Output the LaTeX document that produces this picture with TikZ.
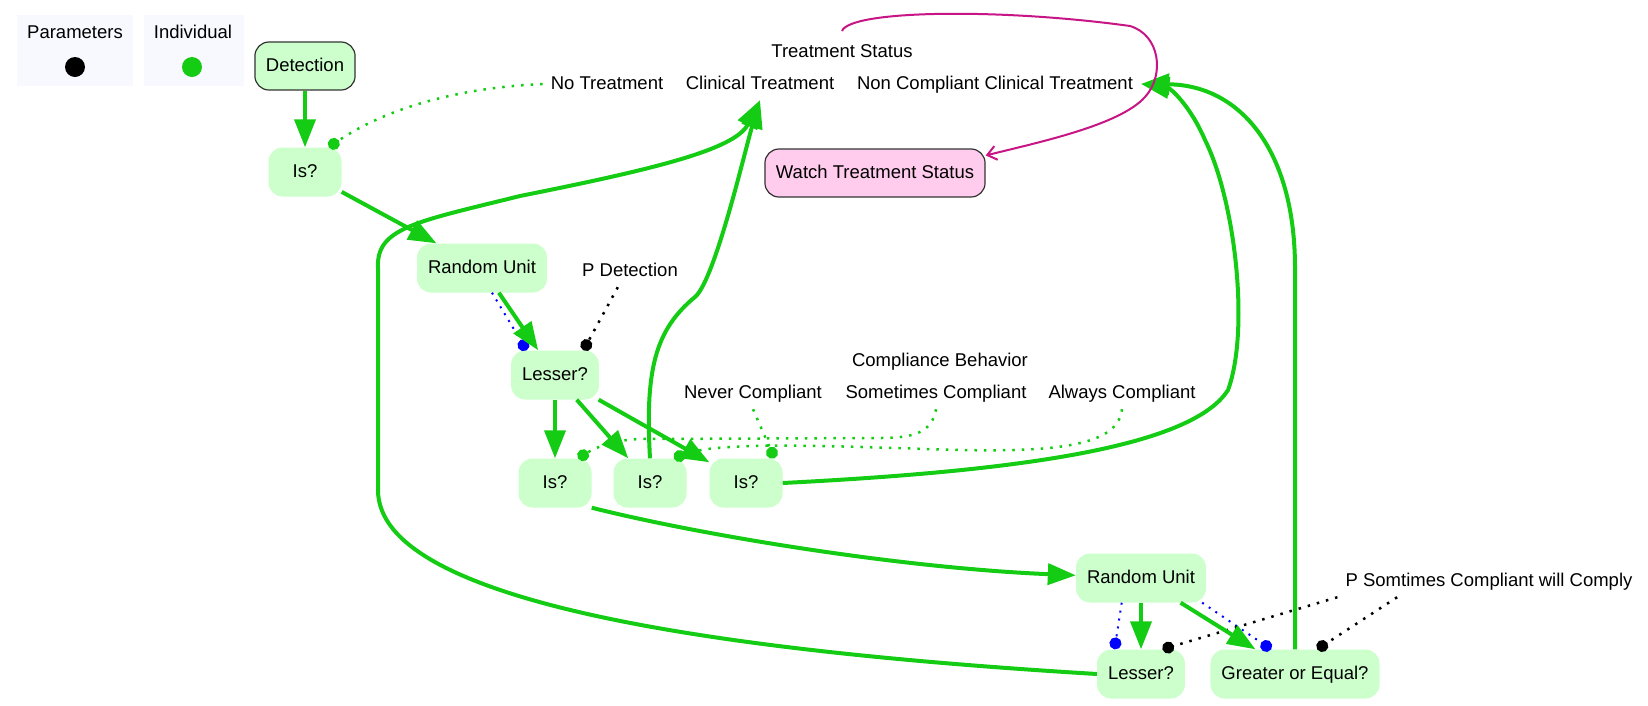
\documentclass[tikz,border=0pt]{standalone}
\usepackage{fontspec}
\setmainfont{Liberation Sans}
\usepackage{xcolor}
\usetikzlibrary{arrows.meta}

\definecolor{indgreen}{RGB}{20,204,20}
\definecolor{nodegreen}{RGB}{204,255,204}
\definecolor{watchpink}{RGB}{255,204,238}
\definecolor{watchline}{RGB}{199,21,133}
\definecolor{legendbg}{RGB}{248,249,255}

\begin{document}
\begin{tikzpicture}[x=1pt,y=-1pt,font=\fontsize{18.5}{22}\selectfont,
    every node/.style={text height=13.5pt,text depth=3.5pt}]
    \tikzstyle{block}=[rectangle,rounded corners=14pt,fill=nodegreen,minimum height=49pt,minimum width=73pt,inner xsep=11pt]
    \tikzstyle{boxed}=[draw=black!80,line width=1.2pt]
    \tikzstyle{field}=[inner xsep=8pt,minimum height=32pt]
    \tikzstyle{flow}=[-{Triangle[length=28pt,width=21pt]},draw=indgreen,line width=4pt]
    \tikzstyle{link}=[-{Circle[length=12pt]},line width=2.5pt,dash pattern=on 2.5pt off 7pt]
    \tikzstyle{thinlink}=[link,line width=2pt,dash pattern=on 2pt off 6pt]
    \tikzstyle{legend}=[rectangle,fill=legendbg,minimum height=71pt]
    \tikzstyle{legdot}=[circle,minimum size=20pt,inner sep=0pt]

    \useasboundingbox (0,0) rectangle (1648,705);

    \node[legend,minimum width=116pt] (lp) at (75,50.5) {};
    \node[legend,minimum width=100pt] (li) at (194,50.5) {};
    \node (lpt) at (75,33) {Parameters};
    \node (lit) at (193,33) {Individual};
    \node[legdot,fill=black] (lpd) at (75,67) {};
    \node[legdot,fill=indgreen] (lid) at (192,67) {};

    \node[block,boxed,minimum height=48pt] (det) at (305,66) {Detection};
    \node[block] (is1) at (305,172) {Is?};
    \node[block] (ru1) at (482,268) {Random Unit};
    \node[field] (pDet) at (630,271) {P Detection};
    \node[block] (les1) at (555,375) {Lesser?};
    \node[block] (isA) at (555,483) {Is?};
    \node[block] (isB) at (650,483) {Is?};
    \node[block] (isC) at (746,483) {Is?};
    \node[block] (ru2) at (1141,578) {Random Unit};
    \node[field] (pSome) at (1489,581) {P Somtimes Compliant will Comply};
    \node[block] (les2) at (1141,674) {Lesser?};
    \node[block] (goe) at (1295,674) {Greater or Equal?};
    \node[block,boxed,fill=watchpink,minimum height=48pt] (watch) at (875,173) {Watch Treatment Status};

    \coordinate (tsTop) at (842,31);
    \node (tsTitle) at (842,52) {Treatment Status};
    \node[field] (tsNo) at (607,84) {No Treatment};
    \node[field] (tsClin) at (760,84) {Clinical Treatment};
    \node[field] (tsNonComp) at (995,84) {Non Compliant Clinical Treatment};

    \node (cbTitle) at (940,361) {Compliance Behavior};
    \node[field] (cbNever) at (753,393) {Never Compliant};
    \node[field] (cbSome) at (936,393) {Sometimes Compliant};
    \node[field] (cbAlways) at (1122,393) {Always Compliant};

    \draw[link,indgreen] (tsNo.west) .. controls (450,88) and (380,112) .. (is1.46);
    \draw[link,indgreen] (cbSome.south) .. controls (932,432) and (915,438) .. (880,438) -- (640,439) .. controls (612,440) and (595,448) .. (isA.47);
    \draw[link,indgreen] (cbAlways.south) .. controls (1118,445) and (1060,452) .. (960,450) .. controls (850,447) and (720,440) .. (isB.46);
    \draw[link,indgreen] (cbNever.south) -- (isC.41);
    \draw[thinlink,blue] (ru1.292) -- (les1.139);
    \draw[link,black] (pDet.233) -- (les1.41);
    \draw[thinlink,blue] (ru2.232) -- (les2.137);
    \draw[thinlink,blue] (ru2.338) -- (goe.134);
    \draw[link,black] (pSome.south west) -- (les2.49);
    \draw[link,black] (pSome.190) -- (goe.48);

    \draw[flow] (det) -- (is1);
    \draw[flow] (is1) -- (ru1);
    \draw[flow] (ru1) -- (les1);
    \draw[flow] (les1) -- (isA);
    \draw[flow] (les1) -- (isB);
    \draw[flow] (les1) -- (isC);
    \draw[flow] (isA.south east) .. controls (700,535) and (900,568) .. (ru2);
    \draw[flow] (ru2) -- (les2);
    \draw[flow] (ru2) -- (goe);
    \draw[flow] (isB.north) .. controls (645,370) and (655,330) .. (695,297) .. controls (715,280) and (745,150) .. (tsClin.south);
    \draw[flow] (les2.west) .. controls (700,650) and (378,600) .. (378,490) -- (378,268) .. controls (376,228) and (415,222) .. (520,196) .. controls (650,170) and (735,150) .. (tsClin.south);
    \draw[flow] (isC.east) .. controls (1000,472) and (1190,450) .. (1228,390) .. controls (1250,330) and (1235,200) .. (1205,140) .. controls (1190,105) and (1170,88) .. (tsNonComp.east);
    \draw[flow] (goe.north) -- (1295,268) .. controls (1295,150) and (1240,85) .. (tsNonComp.east);

    \draw[watchline,line width=2pt,-{Straight Barb[length=9pt,width=14pt]}] (tsTop) .. controls (850,10) and (1000,8) .. (1130,26) .. controls (1160,35) and (1165,75) .. (1145,97) .. controls (1120,125) and (1040,142) .. (watch.9);
\end{tikzpicture}
\end{document}
